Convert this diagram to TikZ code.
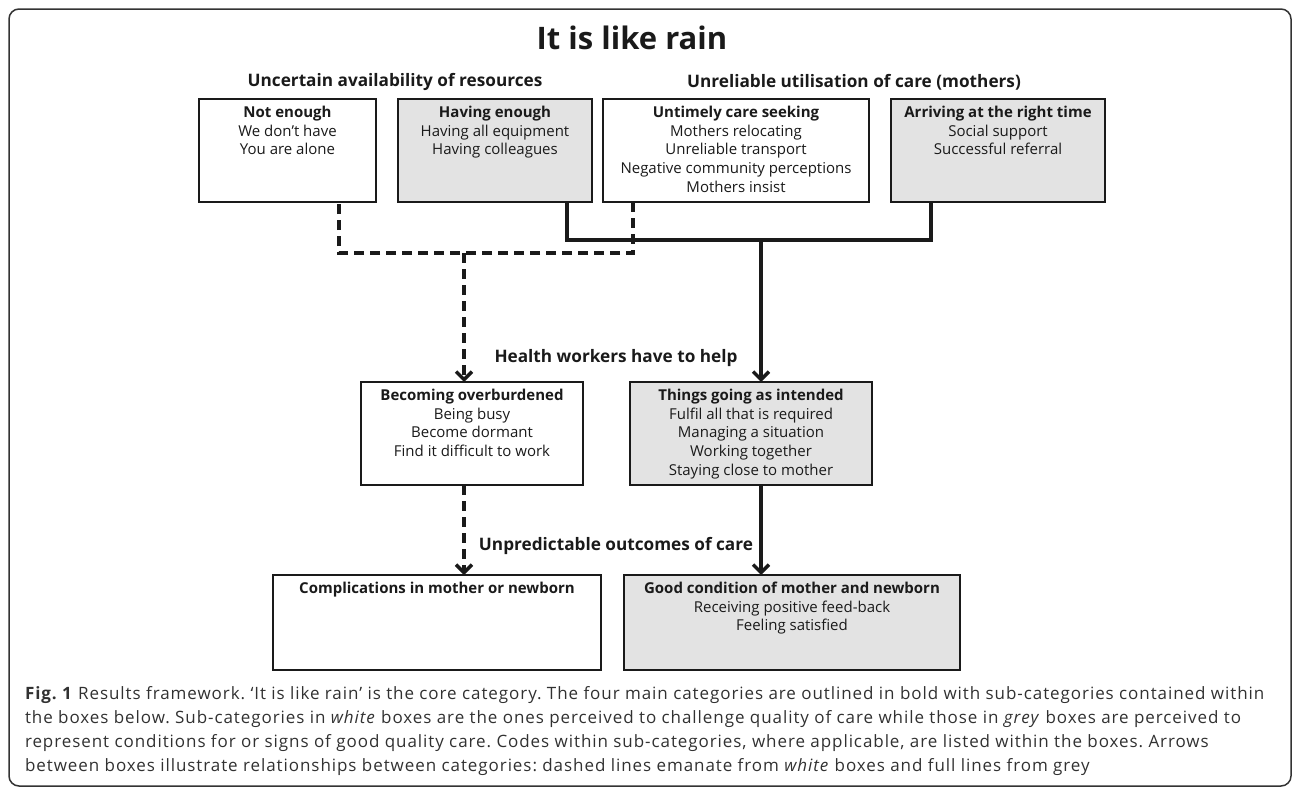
\documentclass[tikz,border=0pt]{standalone}
\usepackage{fontspec}
\setmainfont{Open Sans}
\newfontfamily\capfont[Ligatures=TeX,LetterSpace=5.5]{Open Sans}
\usetikzlibrary{positioning,calc,arrows.meta}
\definecolor{boxgrey}{HTML}{E3E3E3}
\definecolor{ink}{HTML}{1A1A1A}
\frenchspacing

\begin{document}
\begin{tikzpicture}[x=1pt,y=1pt]
                    \tikzstyle{every node}=[inner sep=0,outer sep=0]
                    \tikzstyle{cat}=[rectangle,draw=ink,line width=2,anchor=north west]
                    \tikzstyle{wbox}=[cat,fill=white]
                    \tikzstyle{gbox}=[cat,fill=boxgrey]
                    \tikzstyle{sub}=[anchor=north,align=center,yshift=-7,text=ink,font=\fontsize{15}{18.7}\selectfont]
                    \tikzstyle{head}=[text=ink,font=\fontsize{17.2}{21}\selectfont\bfseries]
                    \tikzstyle{rule}=[draw=ink,line width=3.4,>={Straight Barb[length=8pt,width=16pt]}]
                    \tikzstyle{dashline}=[rule,dash pattern=on 10pt off 6pt]
                    {
                        \useasboundingbox (0,0) rectangle (1295,-795);
                        \draw[rounded corners=10,line width=1.5,draw=black!80] (9,-9) rectangle (1291,-786);

                        \node[text=ink,font=\fontsize{31}{36}\selectfont\bfseries] (title) at (632,-38) {It is like rain};
                        \node[head] (res) at (395,-82) {Uncertain availability of resources};
                        \node[head] (use) at (854,-82) {Unreliable utilisation of care (mothers)};

                        \node[wbox,minimum width=177,minimum height=103,
                            label={[sub]north:{\textbf{Not enough}\\We don't have\\You are alone}}] (notenough) at (199,-99) {};
                        \node[gbox,minimum width=194,minimum height=103,
                            label={[sub]north:{\textbf{Having enough}\\Having all equipment\\Having colleagues}}] (enough) at (398,-99) {};
                        \node[wbox,minimum width=266,minimum height=103,
                            label={[sub]north:{\textbf{Untimely care seeking}\\Mothers relocating\\Unreliable transport\\Negative community perceptions\\Mothers insist}}] (untimely) at (603,-99) {};
                        \node[gbox,minimum width=214,minimum height=103,
                            label={[sub]north:{\textbf{Arriving at the right time}\\Social support\\Successful referral}}] (ontime) at (891,-99) {};

                        \node[head] (help) at (616,-358) {Health workers have to help};
                        \node[wbox,minimum width=222,minimum height=103,
                            label={[sub]north:{\textbf{Becoming overburdened}\\Being busy\\Become dormant\\Find it difficult to work}}] (burden) at (361,-382) {};
                        \node[gbox,minimum width=242,minimum height=103,
                            label={[sub]north:{\textbf{Things going as intended}\\Fulfil all that is required\\Managing a situation\\Working together\\Staying close to mother}}] (intended) at (630,-382) {};

                        \node[head] (outcome) at (616,-546) {Unpredictable outcomes of care};
                        \node[wbox,minimum width=328,minimum height=95,
                            label={[sub]north:{\textbf{Complications in mother or newborn}}}] (complic) at (273,-575) {};
                        \node[gbox,minimum width=336,minimum height=95,
                            label={[sub]north:{\textbf{Good condition of mother and newborn}\\Receiving positive feed-back\\Feeling satisfied}}] (good) at (624,-575) {};

                        \node[anchor=north west,align=left,text=ink!90,font=\capfont\fontsize{17}{24}\selectfont] (caption) at (25,-686)
                            {\textbf{Fig. 1} Results framework. `It is like rain' is the core category. The four main categories are outlined in bold with sub-categories contained within\\
                             the boxes below. Sub-categories in \textit{white} boxes are the ones perceived to challenge quality of care while those in \textit{grey} boxes are perceived to\\
                             represent conditions for or signs of good quality care. Codes within sub-categories, where applicable, are listed within the boxes. Arrows\\
                             between boxes illustrate relationships between categories: dashed lines emanate from \textit{white} boxes and full lines from grey};

                        \coordinate (d1) at ($(notenough.south east)+(-37,0)$);
                        \coordinate (d3) at ($(untimely.south west)+(30,0)$);
                        \coordinate (s2) at ($(enough.south east)+(-25,0)$);
                        \coordinate (s4) at ($(ontime.south west)+(40,0)$);
                        \coordinate (jd) at (464,-253);
                        \coordinate (js) at (761,-240);

                        \draw[dashline] (d3) -- (d3 |- jd) -- (d1 |- jd) -- (d1);
                        \draw[rule] (s2) -- (s2 |- js) -- (s4 |- js) -- (s4);

                        \path[->]
                            (jd) edge[dashline] (jd |- burden.north)
                            (js) edge[rule] (js |- intended.north)
                            (burden.south -| jd) edge[dashline] (jd |- complic.north)
                            (intended.south -| js) edge[rule] (js |- good.north);
                    }
\end{tikzpicture}
\end{document}
